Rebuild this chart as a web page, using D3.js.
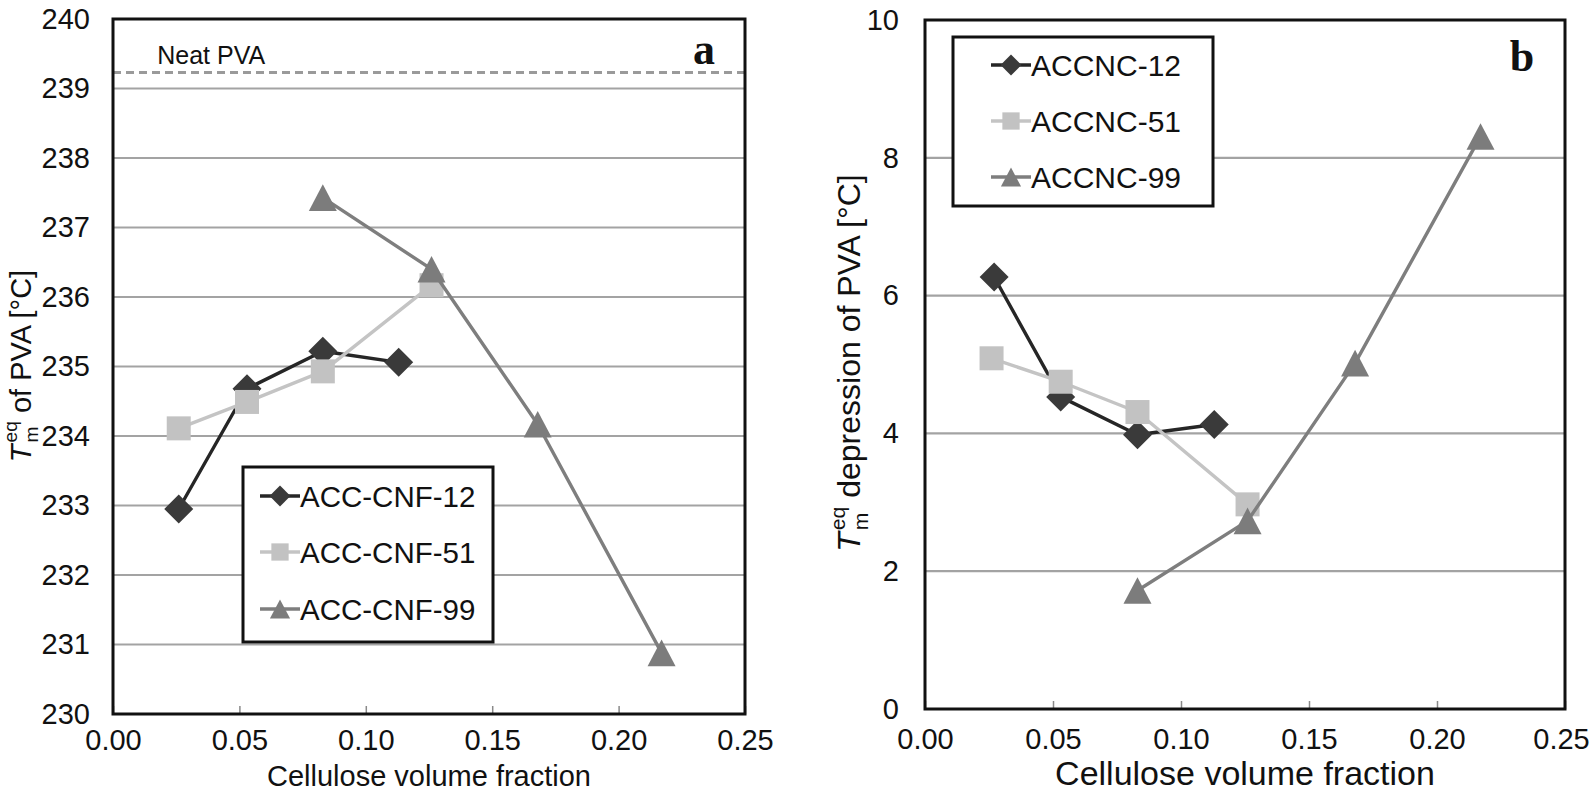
<!DOCTYPE html>
<html>
<head>
<meta charset="utf-8">
<script src="https://cdn.jsdelivr.net/npm/d3@7"></script>
<style>
  html, body { margin: 0; padding: 0; background: #fff; }
  svg { display: block; }
  text { font-family: "Liberation Sans", Arial, Helvetica, sans-serif; fill: #111; }
</style>
</head>
<body>
<svg id="chart" width="1592" height="796"></svg>
<script>
// ---------------- data ----------------
const xTicks = [0.00, 0.05, 0.10, 0.15, 0.20, 0.25];
const yTicksA = [230, 231, 232, 233, 234, 235, 236, 237, 238, 239, 240];
const yTicksB = [0, 2, 4, 6, 8, 10];

const seriesNamesA = ["ACC-CNF-12", "ACC-CNF-51", "ACC-CNF-99"];
const seriesNamesB = ["ACCNC-12", "ACCNC-51", "ACCNC-99"];

const xA12 = [0.026, 0.053, 0.083, 0.113];
const yA12 = [232.95, 234.68, 235.22, 235.06];
const xA51 = [0.026, 0.053, 0.083, 0.126];
const yA51 = [234.11, 234.49, 234.93, 236.17];
const xA99 = [0.083, 0.126, 0.168, 0.217];
const yA99 = [237.43, 236.40, 234.17, 230.88];
const neatPVA = 239.23;

const xB12 = [0.027, 0.053, 0.083, 0.113];
const yB12 = [6.27, 4.53, 3.98, 4.13];
const xB51 = [0.026, 0.053, 0.083, 0.126];
const yB51 = [5.09, 4.75, 4.31, 2.97];
const xB99 = [0.083, 0.126, 0.168, 0.217];
const yB99 = [1.72, 2.73, 5.02, 8.31];

// ---------------- styles ----------------
const styles = [
  { shape: "diamond",  fill: "#3a3a3a", line: "#262626", lw: 3.4, size: 14.5 },
  { shape: "square",   fill: "#c2c2c2", line: "#c4c4c4", lw: 3.4, size: 12 },
  { shape: "triangle", fill: "#7c7c7c", line: "#7e7e7e", lw: 3.4, size: 14 }
];

function markerPath(shape, cx, cy, r) {
  if (shape === "diamond") {
    return `M${cx},${cy - r}L${cx + r},${cy}L${cx},${cy + r}L${cx - r},${cy}Z`;
  } else if (shape === "square") {
    return `M${cx - r},${cy - r}H${cx + r}V${cy + r}H${cx - r}Z`;
  } else {
    const h = r * 0.95;
    return `M${cx},${cy - h}L${cx + r},${cy + h}L${cx - r},${cy + h}Z`;
  }
}

const svg = d3.select("#chart");

function drawPanel(cfg) {
  const g = svg.append("g");
  const x = d3.scaleLinear().domain([0, 0.25]).range([cfg.left, cfg.right]);
  const y = d3.scaleLinear().domain(cfg.yDomain).range([cfg.bottom, cfg.top]);

  // gridlines
  g.append("g").selectAll("line")
    .data(cfg.yTicks.filter(t => t > cfg.yDomain[0] && t < cfg.yDomain[1]))
    .join("line")
    .attr("x1", cfg.left).attr("x2", cfg.right)
    .attr("y1", d => y(d)).attr("y2", d => y(d))
    .attr("stroke", "#a3a3a3").attr("stroke-width", 2.2);

  // inner tick marks on x axis
  g.append("g")
    .attr("transform", `translate(0,${cfg.bottom})`)
    .call(d3.axisBottom(x).tickValues(xTicks).tickSize(-8).tickFormat(""))
    .call(a => a.select(".domain").remove())
    .call(a => a.selectAll("line").attr("stroke", "#8a8a8a").attr("stroke-width", 1.5));

  // y tick labels
  g.append("g")
    .attr("transform", `translate(${cfg.left},0)`)
    .call(d3.axisLeft(y).tickValues(cfg.yTicks).tickSize(0).tickPadding(cfg.yPad).tickFormat(d3.format("d")))
    .call(a => a.select(".domain").remove())
    .call(a => a.selectAll("text").style("font-size", "29px").attr("fill", "#111")
      .style("font-family", '"Liberation Sans", Arial, sans-serif'));

  // x tick labels
  g.append("g")
    .attr("transform", `translate(0,${cfg.bottom})`)
    .call(d3.axisBottom(x).tickValues(xTicks).tickSize(0).tickPadding(cfg.xPad).tickFormat(d3.format(".2f")))
    .call(a => a.select(".domain").remove())
    .call(a => a.selectAll("text").style("font-size", "29px").attr("fill", "#111")
      .style("font-family", '"Liberation Sans", Arial, sans-serif')
      .attr("dx", d => (d === 0.25 && cfg.lastDx) ? cfg.lastDx : 0));

  if (cfg.extra) cfg.extra(g, x, y);

  // series
  const line = d3.line().x(d => x(d[0])).y(d => y(d[1]));
  cfg.series.forEach((s, i) => {
    const st = styles[i];
    const pts = s.xs.map((v, k) => [v, s.ys[k]]);
    g.append("path").datum(pts).attr("d", line)
      .attr("fill", "none").attr("stroke", st.line).attr("stroke-width", st.lw)
      .attr("stroke-linejoin", "round");
    g.append("g").selectAll("path").data(pts).join("path")
      .attr("d", d => markerPath(st.shape, x(d[0]), y(d[1]), st.size))
      .attr("fill", st.fill);
  });

  // plot border
  g.append("rect")
    .attr("x", cfg.left).attr("y", cfg.top)
    .attr("width", cfg.right - cfg.left).attr("height", cfg.bottom - cfg.top)
    .attr("fill", "none").attr("stroke", "#111").attr("stroke-width", 3);

  // legend
  const L = cfg.legend;
  const lg = g.append("g");
  lg.append("rect").attr("x", L.x0).attr("y", L.y0)
    .attr("width", L.x1 - L.x0).attr("height", L.y1 - L.y0)
    .attr("fill", "#fff").attr("stroke", "#111").attr("stroke-width", 3);
  cfg.names.forEach((n, i) => {
    const st = styles[i];
    const yy = L.rows[i];
    lg.append("line").attr("x1", L.lx0).attr("x2", L.lx1).attr("y1", yy).attr("y2", yy)
      .attr("stroke", st.line).attr("stroke-width", st.lw);
    lg.append("path").attr("d", markerPath(st.shape, (L.lx0 + L.lx1) / 2, yy, st.size * 0.72))
      .attr("fill", st.fill);
    lg.append("text").attr("x", L.tx).attr("y", yy).attr("dy", "0.36em")
      .style("font-size", L.fs + "px").text(n);
  });

  // x title
  g.append("text").attr("x", (cfg.left + cfg.right) / 2).attr("y", cfg.xTitleY)
    .attr("text-anchor", "middle").style("font-size", cfg.xTitleSize + "px")
    .text("Cellulose volume fraction");

  // y title
  const yt = g.append("text")
    .attr("transform", `translate(${cfg.yTitleX},${cfg.yTitleY}) rotate(-90)`)
    .attr("text-anchor", "middle").style("font-size", cfg.yTitleSize + "px")
    .attr("xml:space", "preserve").style("white-space", "pre");
  yt.append("tspan").style("font-style", "italic").text("T");
  yt.append("tspan").attr("dx", 2).attr("dy", cfg.yTitleSize * 0.25).style("font-size", (cfg.yTitleSize * 0.66) + "px").text("m");
  yt.append("tspan").attr("dx", -cfg.yTitleSize * 0.55).attr("dy", -cfg.yTitleSize * 0.72)
    .style("font-size", (cfg.yTitleSize * 0.66) + "px").text("eq");
  yt.append("tspan").attr("dy", cfg.yTitleSize * 0.47).text(" " + cfg.yTitleRest);

  // panel letter
  g.append("text").attr("x", cfg.letterX).attr("y", cfg.letterY)
    .attr("text-anchor", "middle")
    .style("font-family", '"Liberation Serif", "Times New Roman", serif')
    .style("font-weight", "bold").style("font-size", "44px")
    .text(cfg.letter);
}

drawPanel({
  left: 113, right: 745, top: 19, bottom: 714,
  yDomain: [230, 240], yTicks: yTicksA, yPad: 23, xPad: 15,
  series: [{ xs: xA12, ys: yA12 }, { xs: xA51, ys: yA51 }, { xs: xA99, ys: yA99 }],
  names: seriesNamesA,
  legend: { x0: 243, y0: 467, x1: 493, y1: 642, rows: [496, 552, 609], lx0: 260, lx1: 300, tx: 300, fs: 29.5 },
  xTitleY: 786, xTitleSize: 29,
  yTitleX: 31, yTitleY: 366, yTitleSize: 29, yTitleRest: "of PVA [°C]",
  letter: "a", letterX: 704, letterY: 64,
  extra: (g, x, y) => {
    g.append("line")
      .attr("x1", x(0)).attr("x2", x(0.25))
      .attr("y1", y(neatPVA)).attr("y2", y(neatPVA))
      .attr("stroke", "#9a9a9a").attr("stroke-width", 3).attr("stroke-dasharray", "8,5");
    g.append("text").attr("x", x(0.0175)).attr("y", y(neatPVA) - 9)
      .style("font-size", "25px").text("Neat PVA");
  }
});

drawPanel({
  left: 925, right: 1565, top: 20, bottom: 709,
  yDomain: [0, 10], yTicks: yTicksB, yPad: 26, xPad: 19, lastDx: -4,
  series: [{ xs: xB12, ys: yB12 }, { xs: xB51, ys: yB51 }, { xs: xB99, ys: yB99 }],
  names: seriesNamesB,
  legend: { x0: 953, y0: 37, x1: 1213, y1: 206, rows: [65, 121, 177], lx0: 991, lx1: 1031, tx: 1031, fs: 30 },
  xTitleY: 785, xTitleSize: 34,
  yTitleX: 860, yTitleY: 363, yTitleSize: 32, yTitleRest: "depression of PVA [°C]",
  letter: "b", letterX: 1522, letterY: 71
});
</script>
</body>
</html>
